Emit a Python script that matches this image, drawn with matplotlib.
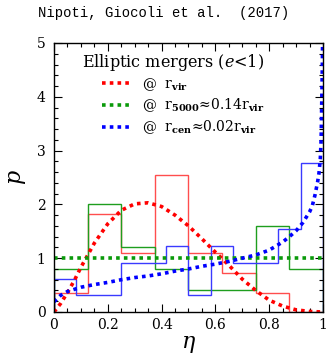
import matplotlib.pyplot as plt
from matplotlib.ticker import MultipleLocator, FuncFormatter

plt.rcParams['font.family'] = ['DejaVu Serif']
plt.rcParams['mathtext.fontset'] = 'dejavuserif'

# histograms (bin edges, heights)
red_edges = [0, 0.125, 0.25, 0.375, 0.5, 0.625, 0.75, 0.875, 1.0]
red_heights = [0.36, 1.82, 1.09, 2.55, 1.09, 0.73, 0.36, 0.0]

green_edges = [0, 0.125, 0.25, 0.375, 0.5, 0.75, 0.875, 1.0]
green_heights = [0.8, 2.0, 1.2, 0.8, 0.4, 1.6, 0.8]

blue_edges = [0, 1/12, 3/12, 5/12, 6/12, 7/12, 8/12, 10/12, 11/12, 1.0]
blue_heights = [0.62, 0.31, 0.92, 1.23, 0.31, 1.23, 0.92, 1.54, 2.77]

# curves
red_eta = [0, 0.025, 0.05, 0.075, 0.1, 0.15, 0.2, 0.25, 0.3, 0.35, 0.4, 0.45,
           0.5, 0.55, 0.6, 0.65, 0.7, 0.75, 0.8, 0.85, 0.9, 0.95, 1.0]
red_p = [0.0, 0.16, 0.36, 0.58, 0.83, 1.28, 1.64, 1.89, 2.01, 2.03, 1.96, 1.80,
         1.60, 1.36, 1.11, 0.87, 0.61, 0.40, 0.22, 0.11, 0.04, 0.01, 0.0]

green_eta = [0, 1]
green_p = [1.0, 1.0]

blue_eta = [0, 0.025, 0.05, 0.1, 0.15, 0.2, 0.25, 0.3, 0.35, 0.4, 0.45, 0.5,
            0.55, 0.6, 0.65, 0.7, 0.75, 0.8, 0.85, 0.875, 0.9, 0.925, 0.95,
            0.96, 0.97, 0.98, 0.985, 0.99, 0.993, 0.995, 0.997, 0.999]
blue_p = [0.19, 0.31, 0.38, 0.46, 0.51, 0.55, 0.60, 0.64, 0.67, 0.71, 0.76, 0.80,
          0.85, 0.89, 0.94, 1.00, 1.06, 1.15, 1.30, 1.40, 1.51, 1.66, 1.86,
          1.97, 2.17, 2.42, 2.58, 2.85, 3.2, 3.8, 4.4, 5.2]

fig = plt.figure(figsize=(3.27, 3.58), dpi=100)
ax = fig.add_axes([0.1651, 0.1285, 0.8227, 0.7514])

ax.stairs(red_heights, red_edges, baseline=0, color='#ff4d4d', lw=1.0)
ax.stairs(green_heights, green_edges, baseline=0, color='#1e9e1e', lw=1.0)
ax.stairs(blue_heights, blue_edges, baseline=0, color='#3a3aff', lw=1.0)

dots = (0, (1, 1.15))
ax.plot(red_eta, red_p, color='red', lw=2.6, ls=dots,
        label=r'@  r$_{\mathbf{vir}}$')
ax.plot(green_eta, green_p, color='#0a9a0a', lw=2.6, ls=dots,
        label=r'@  r$_{\mathbf{5000}}$≈0.14r$_{\mathbf{vir}}$')
ax.plot(blue_eta, blue_p, color='blue', lw=2.6, ls=dots,
        label=r'@  r$_{\mathbf{cen}}$≈0.02r$_{\mathbf{vir}}$')

ax.set_xlim(0, 1)
ax.set_ylim(0, 5)

ax.xaxis.set_major_locator(MultipleLocator(0.2))
ax.xaxis.set_minor_locator(MultipleLocator(0.05))
ax.yaxis.set_major_locator(MultipleLocator(1))
ax.yaxis.set_minor_locator(MultipleLocator(0.2))
ax.xaxis.set_major_formatter(FuncFormatter(lambda v, pos: '%g' % round(v, 2)))

ax.tick_params(which='both', direction='in', top=True, right=True,
               width=0.8, labelsize=10)
ax.tick_params(which='major', length=6)
ax.tick_params(which='minor', length=3)
ax.tick_params(axis='x', pad=4)
ax.tick_params(axis='y', pad=6)
for s in ax.spines.values():
    s.set_linewidth(1.0)

ax.set_xlabel(r'$\eta$', fontsize=16, labelpad=1)
ax.set_ylabel(r'$p$', fontsize=16, labelpad=6)

# legend title as its own text, entries placed under it
ax.text(0.103, 0.926, r'Elliptic mergers ($e$<1)', transform=ax.transAxes,
        ha='left', va='center', fontsize=11.5)
ax.legend(loc='upper left', bbox_to_anchor=(0.177, 0.878), frameon=False,
          fontsize=10, handlelength=2.2, handletextpad=0.7,
          labelspacing=0.3, borderpad=0, borderaxespad=0)

fig.text(0.5, 0.963, 'Nipoti, Giocoli et al.  (2017)', ha='center', va='center',
         family='Liberation Mono', fontsize=10)

fig.savefig('out.png', dpi=100)
